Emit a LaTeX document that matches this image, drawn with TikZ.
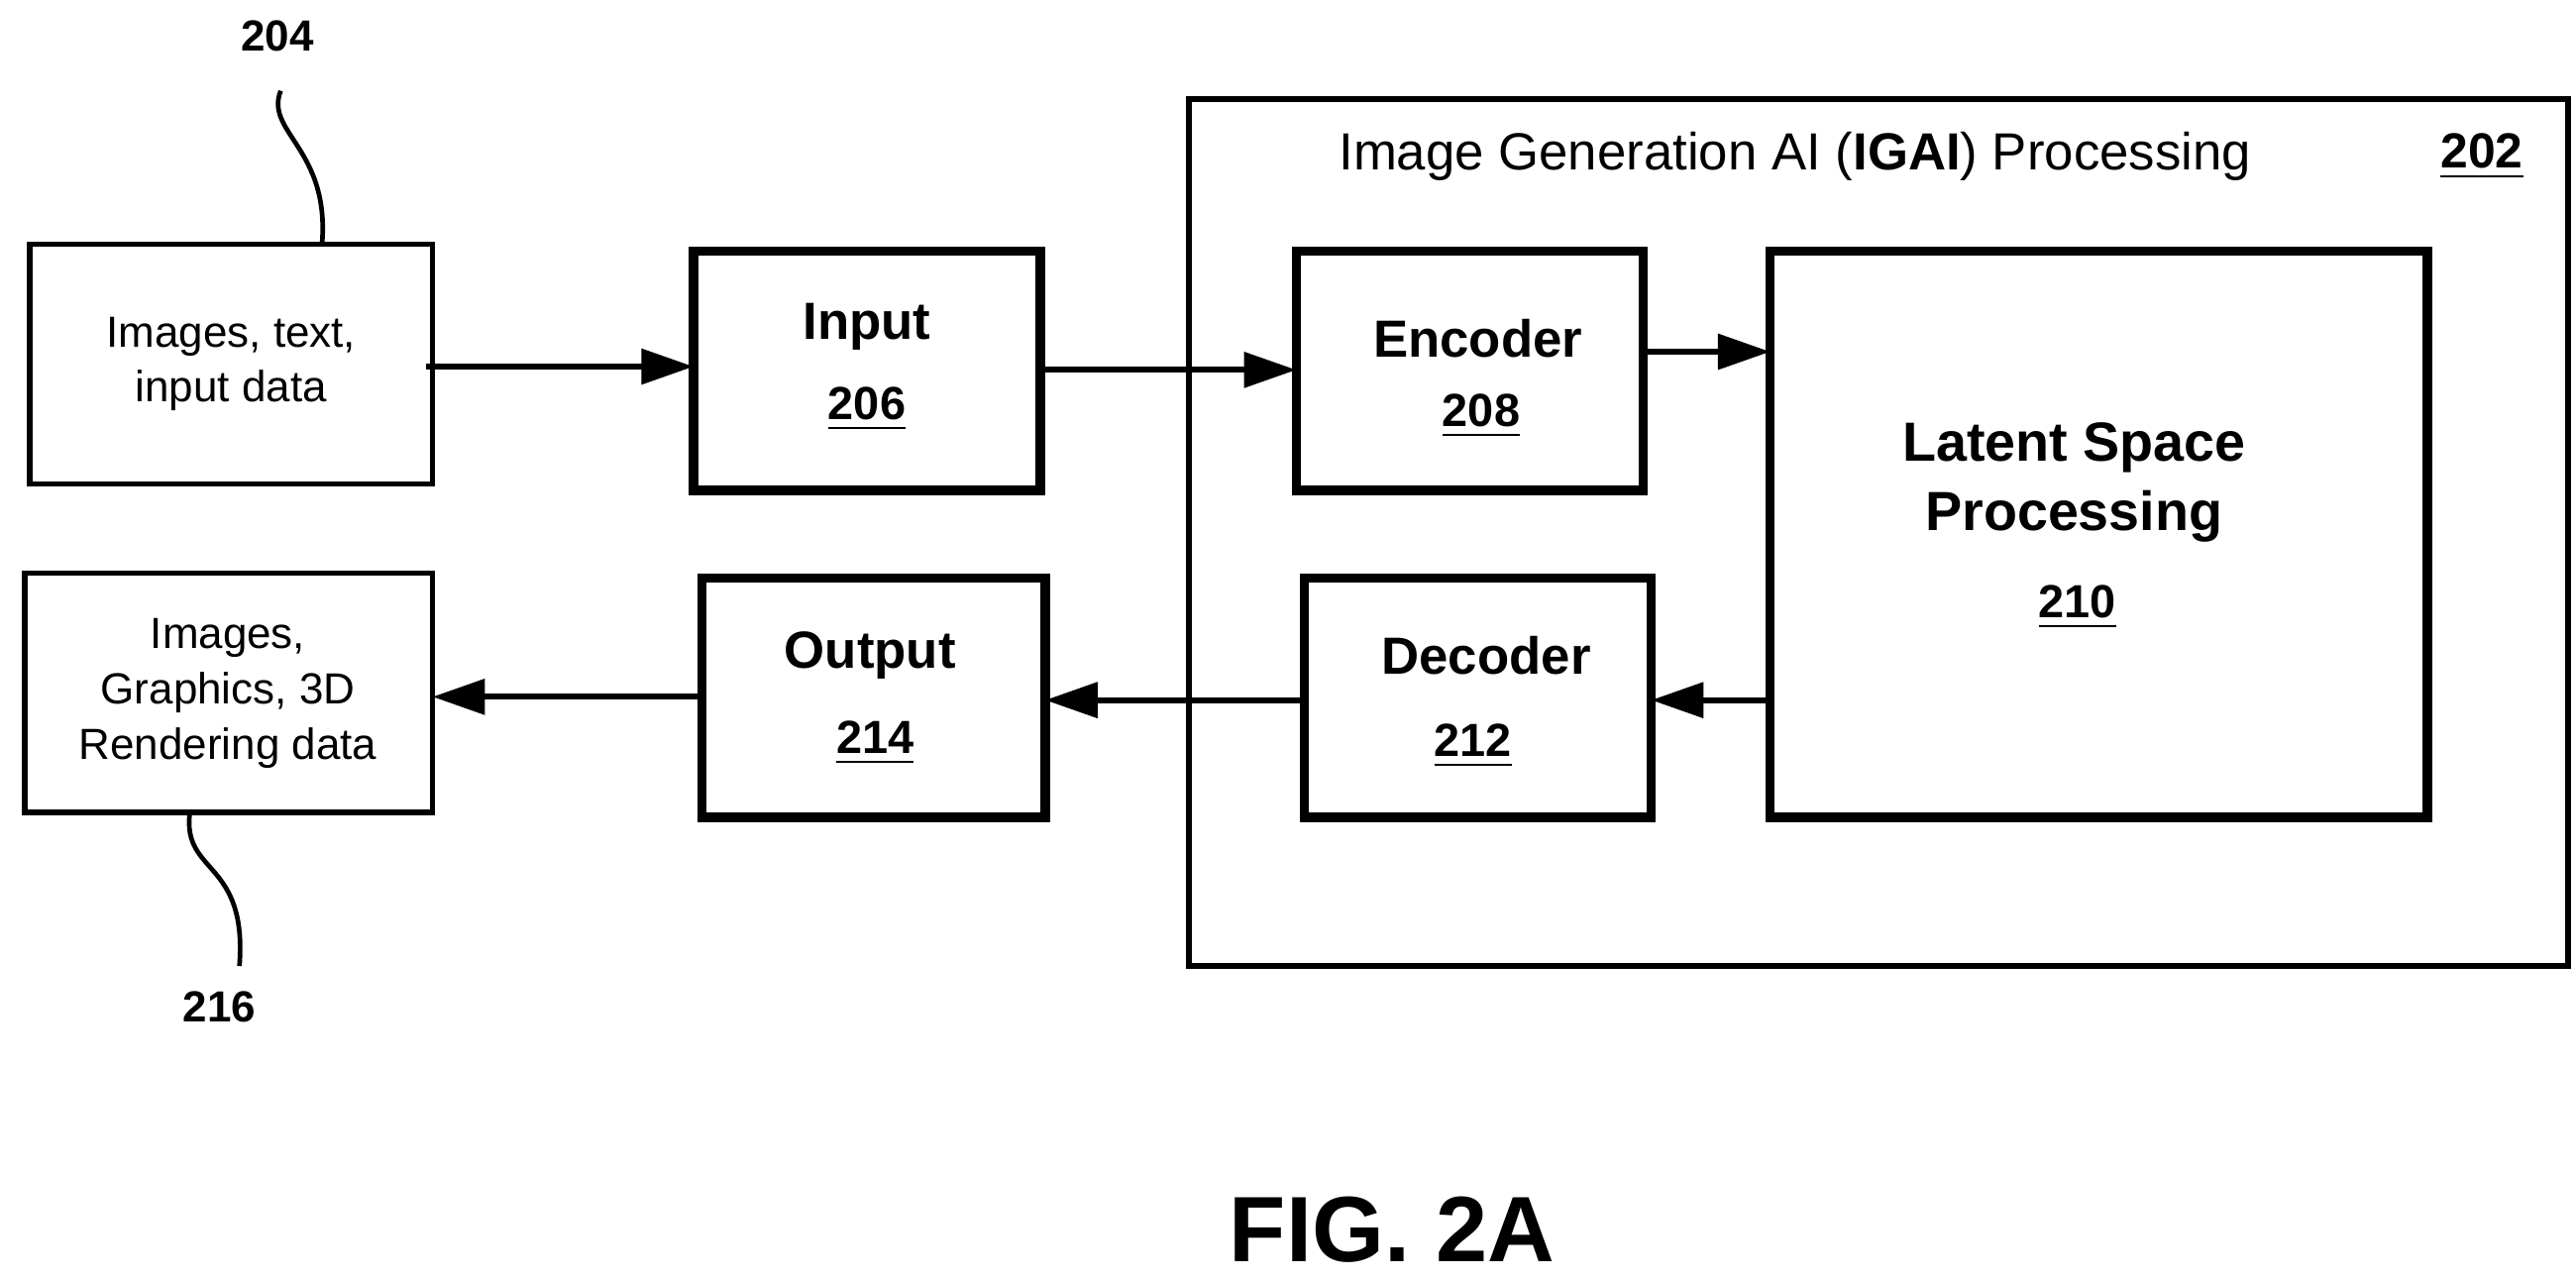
\documentclass[tikz,border=0pt]{standalone}
\usepackage{fontspec}
\setmainfont{Liberation Sans}
\usetikzlibrary{arrows.meta}
\begin{document}
\begin{tikzpicture}[x=0.01cm,y=-0.01cm,
 thin box/.style={draw,line width=0.9pt,inner sep=0},
 thick box/.style={draw,line width=1.6pt},
 arr/.style={line width=1pt,-{Triangle[length=9pt,width=6pt]}},
 lbl/.style={font=\fontsize{7.5}{9}\selectfont\bfseries},
 txt/.style={font=\fontsize{7.5}{9.5}\selectfont,align=center}]
\useasboundingbox (0,0) rectangle (1560,775);
% boxes
\draw[line width=1pt] (720,60) rectangle (1555,585);
\node[txt,font=\fontsize{9}{11}\selectfont] (t202) at (1087,95) {Image Generation AI (\textbf{IGAI}) Processing};
\node[lbl,font=\fontsize{8.5}{10}\selectfont\bfseries] (n202) at (1503,95) {\underline{202}};
\draw[thin box] (18,148) rectangle (262,293) node[midway,txt] (b204) {Images, text,\\input data};
\coordinate (i204) at (262,222);
\draw[thick box] (420,152) rectangle (630,297);
\node[txt,font=\fontsize{9}{11}\selectfont\bfseries] (in) at (525,198) {Input};
\node[lbl,font=\fontsize{8}{10}\selectfont\bfseries] at (525,248) {\underline{206}};
\draw[thick box] (785,152) rectangle (995,297);
\node[txt,font=\fontsize{9}{11}\selectfont\bfseries] (enc) at (895,205) {Encoder};
\node[lbl,font=\fontsize{8}{10}\selectfont\bfseries] at (897,252) {\underline{208}};
\draw[thick box] (1072,152) rectangle (1470,495);
\node[txt,font=\fontsize{9.5}{12}\selectfont\bfseries] (lat) at (1256,292) {Latent Space\\Processing};
\node[lbl,font=\fontsize{8}{10}\selectfont\bfseries] at (1258,368) {\underline{210}};
\draw[thick box] (790,350) rectangle (1000,495);
\node[txt,font=\fontsize{9}{11}\selectfont\bfseries] (dec) at (900,397) {Decoder};
\node[lbl,font=\fontsize{8}{10}\selectfont\bfseries] at (892,452) {\underline{212}};
\draw[thick box] (425,350) rectangle (633,495);
\node[txt,font=\fontsize{9}{11}\selectfont\bfseries] (out) at (527,397) {Output};
\node[lbl,font=\fontsize{8}{10}\selectfont\bfseries] at (530,450) {\underline{214}};
\draw[thin box] (15,347) rectangle (262,492);
\node[txt] (b216) at (138,420) {Images,\\Graphics, 3D\\Rendering data};
% arrows
\coordinate (a1) at (258,222); \coordinate (a1e) at (420,222);
\draw[arr] (a1) -- (a1e);
\coordinate (a2) at (630,224); \coordinate (a2e) at (785,224);
\draw[arr] (a2) -- (a2e);
\coordinate (a3) at (995,213); \coordinate (a3e) at (1072,213);
\draw[arr] (a3) -- (a3e);
\coordinate (a4) at (1072,424); \coordinate (a4e) at (1000,424);
\draw[arr] (a4) -- (a4e);
\coordinate (a5) at (790,424); \coordinate (a5e) at (633,424);
\draw[arr] (a5) -- (a5e);
\coordinate (a6) at (425,422); \coordinate (a6e) at (262,422);
\draw[arr] (a6) -- (a6e);
% labels
\node[lbl] (n204) at (168,22) {204};
\coordinate (s1) at (170,55); \coordinate (s1e) at (195,148);
\draw[line width=0.8pt] (s1) .. controls (160,80) and (200,90) .. (195,148);
\node[lbl] (n216) at (133,610) {216};
\coordinate (s2) at (115,492);
\draw[line width=0.8pt] (s2) .. controls (110,530) and (150,520) .. (145,585);
\node[font=\fontsize{16}{18}\selectfont\bfseries] (fig) at (843,745) {FIG. 2A};
\end{tikzpicture}
\end{document}
